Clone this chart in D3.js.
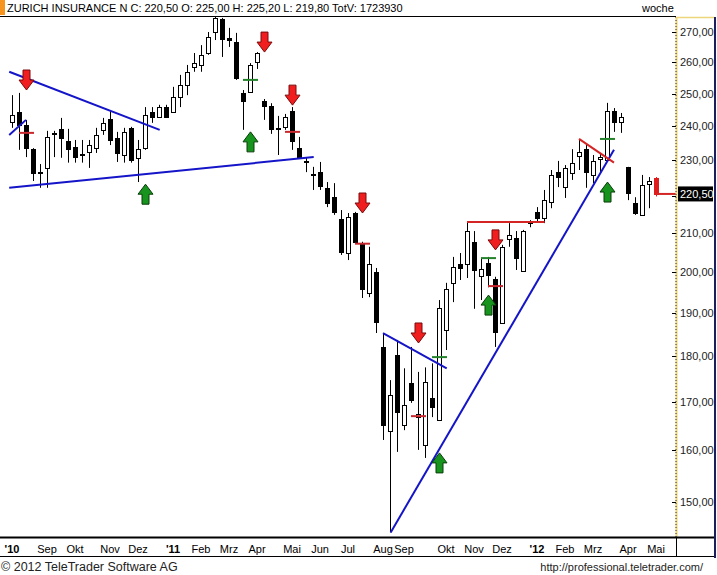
<!DOCTYPE html>
<html>
<head>
<meta charset="utf-8">
<script src="https://cdn.jsdelivr.net/npm/d3@7"></script>
<style>
  body { margin: 0; background: #fff; }
  svg { display: block; font-family: "Liberation Sans", Arial, sans-serif; }
</style>
</head>
<body>
<div id="chart"></div>
<script>
// weekly candles, Aug 2010 - May 2012
const opens = [241.3,244.3,240.4,233.2,226.2,227.8,237.7,239.2,235.6,233.8,
  231.7,232.4,233.5,238.9,242.2,236.5,231.5,239.5,230.7,233.5,
  244.3,242.8,245.8,244.3,248.9,252.7,258.4,259.1,263.0,270.0,
  274.4,268.0,266.6,250.2,250.5,260.0,247.7,246.1,239.2,239.8,
  244.6,233.5,229.8,226.1,226.6,222.2,219.6,213.7,204.8,215.3,
  207.2,194.8,200.0,182.1,163.9,180.2,165.1,174.0,166.9,161.1,
  170.8,166.2,186.0,197.3,202.0,202.0,207.7,199.0,202.3,198.3,
  187.8,208.4,208.7,200.3,212.6,215.6,214.0,218.3,226.6,222.4,
  226.4,231.2,233.2,225.8,230.4,230.1,244.6,241.3,228.1,218.0,
  214.8,223.2,225.0];
const highs = [249.5,250.2,241.9,233.5,228.9,238.6,238.6,242.5,239.2,235.9,
  235.9,235.9,239.5,242.5,244.9,238.3,239.5,239.8,235.9,245.8,
  245.8,246.5,246.5,252.1,255.9,259.1,263.0,265.6,270.0,275.1,
  274.8,271.4,269.7,251.1,259.7,263.3,248.3,247.0,243.1,243.7,
  245.8,236.8,230.7,228.1,229.5,223.8,223.5,216.1,215.3,215.6,
  207.7,206.4,201.0,185.3,174.7,183.7,177.3,182.1,176.5,177.5,
  178.4,193.1,197.3,203.8,204.8,212.9,210.5,203.5,203.8,198.8,
  206.9,212.6,210.5,210.8,213.4,216.9,221.6,227.2,229.8,228.6,
  233.2,235.9,234.4,231.5,232.1,247.1,245.5,244.0,228.1,219.6,
  225.8,225.2,225.2];
const lows = [239.5,233.0,230.9,224.1,222.2,222.2,230.9,230.7,229.3,229.3,
  229.3,227.8,232.1,237.4,234.4,229.5,229.3,229.3,223.8,233.0,
  241.0,242.5,242.5,244.0,245.8,249.5,256.9,256.9,262.4,267.3,
  261.7,265.0,254.3,238.9,250.2,257.8,241.9,237.7,231.5,238.9,
  233.0,230.7,226.6,221.6,221.6,216.9,214.8,204.3,203.0,207.4,
  193.6,193.8,185.3,162.1,144.4,159.7,164.1,169.8,160.1,158.5,
  166.8,166.2,181.4,192.6,198.0,198.5,191.0,193.1,196.2,182.1,
  187.6,206.4,200.5,200.0,211.5,212.9,212.6,216.6,222.4,219.4,
  224.4,227.2,222.2,223.5,226.6,229.5,238.3,238.0,218.8,214.8,
  214.5,216.6,219.8];
const closes = [243.4,240.4,233.5,226.4,226.6,236.8,238.0,236.5,233.2,230.9,
  231.4,234.4,237.4,241.0,235.9,232.1,238.3,230.1,233.2,243.4,
  242.8,245.8,242.8,248.9,252.7,256.9,259.7,262.4,268.3,274.8,
  267.6,267.3,254.9,247.7,259.1,263.0,246.1,239.2,239.4,242.8,
  235.6,230.9,229.5,225.8,222.7,218.0,215.6,205.1,214.2,207.7,
  195.8,202.0,187.8,165.2,171.4,167.7,169.3,170.4,167.5,174.3,
  168.9,191.2,195.8,201.3,201.0,210.5,200.5,200.8,199.2,185.5,
  206.4,209.5,203.5,210.5,213.1,214.0,218.8,225.8,225.2,227.8,
  229.3,232.4,226.6,229.8,230.9,244.6,241.3,242.8,220.8,215.3,
  223.0,224.1,220.5];

// x axis labels and the candle they sit under
const monthLabels = ["'10","Sep","Okt","Nov","Dez","'11","Feb","Mrz","Apr","Mai","Jun",
  "Jul","Aug","Sep","Okt","Nov","Dez","'12","Feb","Mrz","Apr","Mai"];
const monthIdx = [0,5,9,14,18,23,27,31,35,40,44,48,53,56,62,66,70,75,79,83,88,92];
const priceTicks = [150,160,170,180,190,200,210,220,230,240,250,260,270];
const lastPrice = 220.5;

// drawn analysis: [candle index, price]
const blueLines = [
  [[-0.4,256.9],[21.1,238.9]],
  [[-0.4,237.4],[2.0,241.9]],
  [[-0.4,222.2],[43.1,230.9]],
  [[53,185.3],[62.1,177.3]],
  [[54.1,144.4],[86,233.0]]
];
const redLines = [
  [[65,212.9],[76.1,212.9]],
  [[81,236.2],[86,229.3]]
];
const downArrows = [[2,251.1],[36,263.3],[40,246.4],[50,215.3],[58,183.0],[69,205.6]];
const upArrows = [[19,223.2],[34,238.3],[61,159.5],[68,194.3],[85,223.8]];
const redMarks = [[2,238.0],[40,238.3],[50,207.2],[58,167.0],[69,196.5]];
const greenMarks = [[34,254.3],[61,179.8],[68,203.5],[85,236.2]];

const W = 717, H = 575;
const plot = { left: 0, right: 676, top: 17, bottom: 537 };

const svg = d3.select("#chart").append("svg")
    .attr("width", W).attr("height", H);

const x = d3.scaleLinear().domain([0, 92]).range([12, 656]);
const y = d3.scaleLog().domain([150, 270]).range([502, 32]);

svg.append("defs").append("clipPath").attr("id", "clip")
  .append("rect")
    .attr("x", plot.left).attr("y", plot.top)
    .attr("width", plot.right - plot.left).attr("height", plot.bottom - plot.top);

// header
svg.append("rect").attr("x", 0).attr("y", 0).attr("width", 5).attr("height", 15).attr("fill", "#f7941d");
svg.append("text").attr("x", 7).attr("y", 12).attr("font-size", 11)
  .text("ZURICH INSURANCE N C: 220,50 O: 225,00 H: 225,20 L: 219,80 TotV: 1723930");
svg.append("text").attr("x", 642).attr("y", 12).attr("font-size", 11).text("woche");
svg.append("line").attr("x1", 0).attr("x2", plot.right).attr("y1", 16.5).attr("y2", 16.5)
  .attr("stroke", "#000");

const g = svg.append("g").attr("clip-path", "url(#clip)");
const candles = opens.map((o, i) => ({ i, o, h: highs[i], l: lows[i], c: closes[i], live: i === opens.length - 1 }));
const cx = d => Math.round(x(d.i));

g.selectAll(".wick").data(candles).enter().append("line")
    .attr("x1", d => cx(d) + 0.5).attr("x2", d => cx(d) + 0.5)
    .attr("y1", d => y(d.h)).attr("y2", d => y(d.l))
    .attr("stroke", d => d.live ? "#e01b1b" : "#000");

g.selectAll(".body").data(candles).enter().append("rect")
    .attr("x", d => cx(d) - 1.5)
    .attr("y", d => Math.round(y(Math.max(d.o, d.c))) + 0.5)
    .attr("width", 4)
    .attr("height", d => Math.max(1, Math.round(Math.abs(y(d.o) - y(d.c)))))
    .attr("fill", d => d.live ? "#e01b1b" : (d.c >= d.o ? "#fff" : "#000"))
    .attr("stroke", d => d.live ? "#e01b1b" : "#000");

const line = d3.line().x(p => x(p[0])).y(p => y(p[1]));

g.selectAll(".blue").data(blueLines).enter().append("path")
    .attr("d", line).attr("fill", "none").attr("stroke", "#1414c8").attr("stroke-width", 2);
g.selectAll(".redl").data(redLines).enter().append("path")
    .attr("d", line).attr("fill", "none").attr("stroke", "#d42424").attr("stroke-width", 2);

g.selectAll(".rmark").data(redMarks).enter().append("line")
    .attr("x1", d => x(d[0]) - 7).attr("x2", d => x(d[0]) + 8)
    .attr("y1", d => y(d[1])).attr("y2", d => y(d[1]))
    .attr("stroke", "#c8282d").attr("stroke-width", 2);
g.selectAll(".gmark").data(greenMarks).enter().append("line")
    .attr("x1", d => x(d[0]) - 7).attr("x2", d => x(d[0]) + 8)
    .attr("y1", d => y(d[1])).attr("y2", d => y(d[1]))
    .attr("stroke", "#23822a").attr("stroke-width", 2);

// last price line
g.append("line")
    .attr("x1", x(92)).attr("x2", plot.right)
    .attr("y1", y(lastPrice)).attr("y2", y(lastPrice))
    .attr("stroke", "#d42424").attr("stroke-width", 2);

// arrows: 15 wide, 20 tall, tip at the given price
function arrowPath(tx, ty, dir) {
  // dir = 1 pointing down, -1 pointing up
  const s = dir;
  return `M${tx},${ty} L${tx - 7.5},${ty - 10 * s} L${tx - 3.5},${ty - 10 * s} L${tx - 3.5},${ty - 20 * s}` +
         ` L${tx + 3.5},${ty - 20 * s} L${tx + 3.5},${ty - 10 * s} L${tx + 7.5},${ty - 10 * s} Z`;
}
g.selectAll(".down").data(downArrows).enter().append("path")
    .attr("d", d => arrowPath(x(d[0]) + 0.5, y(d[1]), 1))
    .attr("fill", "#f01e1e").attr("stroke", "#7a0a0a").attr("stroke-width", 1);
g.selectAll(".up").data(upArrows).enter().append("path")
    .attr("d", d => arrowPath(x(d[0]) + 0.5, y(d[1]), -1))
    .attr("fill", "#17941d").attr("stroke", "#0a3d0a").attr("stroke-width", 1);

// y axis
const axX = plot.right + 0.5;
svg.append("line").attr("x1", axX).attr("x2", axX).attr("y1", plot.top).attr("y2", plot.bottom)
    .attr("stroke", "#ecd57a").attr("stroke-width", 2);
svg.append("line").attr("x1", axX - 0.5).attr("x2", axX - 0.5).attr("y1", plot.top).attr("y2", plot.bottom)
    .attr("stroke", "#333").attr("stroke-dasharray", "1,2");
svg.append("line").attr("x1", plot.right).attr("x2", 714).attr("y1", plot.top + 0.5).attr("y2", plot.top + 0.5)
    .attr("stroke", "#ecd57a").attr("stroke-width", 1.5);

const yAxis = svg.append("g");
yAxis.selectAll(".tk").data(priceTicks).enter().append("line")
    .attr("x1", plot.right - 4).attr("x2", plot.right)
    .attr("y1", d => Math.round(y(d)) + 0.5).attr("y2", d => Math.round(y(d)) + 0.5)
    .attr("stroke", "#000");
yAxis.selectAll(".lb").data(priceTicks.filter(t => Math.abs(y(t) - y(lastPrice)) > 14)).enter().append("text")
    .attr("x", 680).attr("y", d => y(d) + 4).attr("font-size", 11).attr("fill", "#222")
    .text(d => d3.format(".2f")(d).replace(".", ","));

svg.append("rect").attr("x", 678).attr("y", y(lastPrice) - 7.5).attr("width", 35).attr("height", 15).attr("fill", "#000");
svg.append("text").attr("x", 680).attr("y", y(lastPrice) + 4).attr("font-size", 11).attr("fill", "#fff")
    .text(d3.format(".2f")(lastPrice).replace(".", ","));

// right frame
svg.append("line").attr("x1", 715).attr("x2", 715).attr("y1", plot.top).attr("y2", 558)
    .attr("stroke", "#1c1f5e").attr("stroke-width", 2);

// x axis band
svg.append("line").attr("x1", 0).attr("x2", 714).attr("y1", plot.bottom + 0.5).attr("y2", plot.bottom + 0.5)
    .attr("stroke", "#000").attr("stroke-width", 2);
svg.append("line").attr("x1", 0).attr("x2", 714).attr("y1", 556.5).attr("y2", 556.5)
    .attr("stroke", "#000");
svg.append("line").attr("x1", plot.right + 0.5).attr("x2", plot.right + 0.5).attr("y1", plot.bottom).attr("y2", 557)
    .attr("stroke", "#000");

svg.append("g").selectAll("text").data(monthLabels).enter().append("text")
    .attr("x", (d, k) => x(monthIdx[k]))
    .attr("y", 553)
    .attr("text-anchor", "middle")
    .attr("font-size", 11)
    .attr("font-weight", d => d.startsWith("'") ? "bold" : "normal")
    .text(d => d);

// footer
svg.append("text").attr("x", 1).attr("y", 571).attr("font-size", 12.5).attr("fill", "#222")
    .text("\u00a9 2012 TeleTrader Software AG");
svg.append("text").attr("x", 703).attr("y", 571).attr("text-anchor", "end").attr("font-size", 11).attr("fill", "#222")
    .text("http://professional.teletrader.com/");
</script>
</body>
</html>
